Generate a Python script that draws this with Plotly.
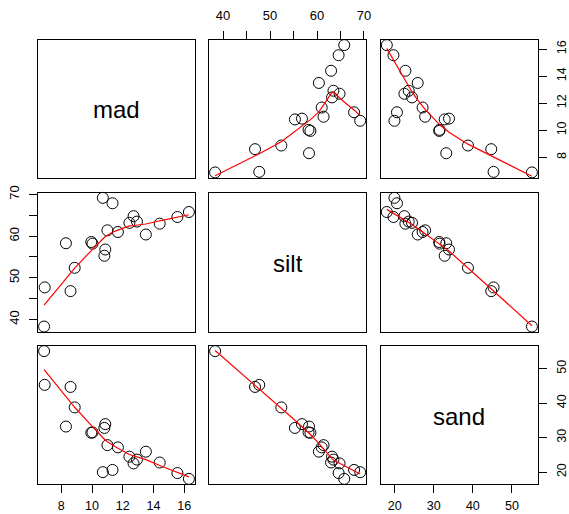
import numpy as np
import plotly.graph_objects as go

# ---- data ----
var_names = ["mad", "silt", "sand"]
mad = [6.88, 8.60, 6.92, 8.87, 10.80, 10.86, 10.03, 9.95, 8.30, 13.50,
       11.68, 11.00, 14.40, 12.43, 12.92, 12.70, 15.55, 16.30, 11.33, 10.70]
silt = [38.3, 46.8, 47.7, 52.4, 55.3, 56.8, 58.2, 58.6, 58.3, 60.4,
        61.0, 61.4, 63.0, 63.2, 63.5, 64.8, 64.6, 65.8, 67.9, 69.2]
sand = [55.1, 44.7, 45.3, 38.75, 32.8, 33.9, 31.5, 31.4, 33.2, 25.9,
        27.15, 27.8, 22.75, 24.45, 23.6, 22.5, 19.7, 18.0, 20.6, 19.95]

mad_ticks = [8, 10, 12, 14, 16]
mad_ticktext = ["8", "10", "12", "14", "16"]
silt_ticks = [40, 45, 50, 55, 60, 65, 70]
silt_ticktext = ["40", "", "50", "", "60", "", "70"]
sand_ticks = [20, 30, 40, 50]
sand_ticktext = ["20", "30", "40", "50"]

data = [np.array(mad), np.array(silt), np.array(sand)]
ticks = [(mad_ticks, mad_ticktext), (silt_ticks, silt_ticktext), (sand_ticks, sand_ticktext)]


def clowess(x, y, f=2 / 3, nsteps=3):
    order = np.argsort(x, kind="stable")
    x = np.asarray(x, float)[order]
    y = np.asarray(y, float)[order]
    n = len(x)
    delta = 0.01 * (x[-1] - x[0])
    ns = max(2, min(n, int(f * n + 1e-7)))
    ys = np.zeros(n)
    rw = np.ones(n)
    rng = x[-1] - x[0]

    def lowest(xs, nleft, nright, userw):
        h = max(xs - x[nleft], x[nright] - xs)
        h9 = 0.999 * h
        h1 = 0.001 * h
        w = np.zeros(n)
        a = 0.0
        j = nleft
        while j < n:
            r = abs(x[j] - xs)
            if r <= h9:
                w[j] = 1.0 if r <= h1 else (1 - (r / h) ** 3) ** 3
                if userw:
                    w[j] *= rw[j]
                a += w[j]
            elif x[j] > xs:
                break
            j += 1
        nrt = j - 1
        if a <= 0:
            return None
        sl = slice(nleft, nrt + 1)
        w[sl] /= a
        if h > 0:
            aa = np.sum(w[sl] * x[sl])
            b = xs - aa
            c = np.sum(w[sl] * (x[sl] - aa) ** 2)
            if np.sqrt(c) > 0.001 * rng:
                b /= c
                w[sl] *= (b * (x[sl] - aa) + 1)
        return np.sum(w[sl] * y[sl])

    for it in range(1, nsteps + 2):
        nleft = 0
        nright = ns - 1
        last = -1
        i = 0
        while True:
            if nright < n - 1:
                d1 = x[i] - x[nleft]
                d2 = x[nright + 1] - x[i]
                if d1 > d2:
                    nleft += 1
                    nright += 1
                    continue
            v = lowest(x[i], nleft, nright, it > 1)
            ys[i] = y[i] if v is None else v
            if last < i - 1:
                denom = x[i] - x[last]
                for j in range(last + 1, i):
                    alpha = (x[j] - x[last]) / denom
                    ys[j] = alpha * ys[i] + (1 - alpha) * ys[last]
            last = i
            cut = x[last] + delta
            i = last + 1
            while i < n:
                if x[i] > cut:
                    break
                if x[i] == x[last]:
                    ys[i] = ys[last]
                    last = i
                i += 1
            i = max(last + 1, i - 1)
            if last >= n - 1:
                break
        res = y - ys
        sc = np.sum(np.abs(res)) / n
        if it > nsteps:
            break
        cmad = 6 * np.median(np.abs(res))
        if cmad < 1e-7 * sc:
            break
        c9 = 0.999 * cmad
        c1 = 0.001 * cmad
        r = np.abs(res)
        rw = np.where(r <= c1, 1.0, np.where(r <= c9, (1 - (r / cmad) ** 2) ** 2, 0.0))
    return x, ys


def ext_range(v):
    lo, hi = float(np.min(v)), float(np.max(v))
    d = 0.04 * (hi - lo)
    return [lo - d, hi + d]


W, H = 569, 514
ml, mr, mt, mb = 38, 31, 40, 30
pw, ph = W - ml - mr, H - mt - mb
col_px = [(38.3, 194.7), (209.3, 366.0), (381.0, 537.7)]
row_px = [(40.0, 177.5), (192.7, 331.7), (346.0, 484.0)]
col_dom = [[max(0, (a - ml) / pw), min(1, (b - ml) / pw)] for a, b in col_px]
row_dom = [[max(0, 1 - (b - mt) / ph), min(1, 1 - (a - mt) / ph)] for a, b in row_px]

fig = go.Figure()
font_family = "Liberation Sans, Arial, sans-serif"
layout = {}
annotations = []

for i in range(3):
    for j in range(3):
        k = 3 * i + j + 1
        xa = f"x{k}" if k > 1 else "x"
        ya = f"y{k}" if k > 1 else "y"
        xkey = f"xaxis{k}" if k > 1 else "xaxis"
        ykey = f"yaxis{k}" if k > 1 else "yaxis"
        base = dict(showgrid=False, zeroline=False, showline=True, mirror=True,
                    linecolor="black", linewidth=1, ticks="", showticklabels=False,
                    automargin=False,
                    tickfont=dict(family=font_family, size=13, color="black"))
        xax = dict(base, domain=col_dom[j], anchor=ya, range=ext_range(data[j]))
        yax = dict(base, domain=row_dom[i], anchor=xa, range=ext_range(data[i]))
        # axis ticks as in R pairs()
        if i == 0 and j % 2 == 1:
            xax.update(side="top", ticks="outside", ticklen=8, tickcolor="black",
                       showticklabels=True, tickvals=ticks[j][0], ticktext=ticks[j][1],
                       ticklabelstandoff=6)
        if i == 2 and j % 2 == 0:
            xax.update(side="bottom", ticks="outside", ticklen=8, tickcolor="black",
                       showticklabels=True, tickvals=ticks[j][0], ticktext=ticks[j][1],
                       ticklabelstandoff=2,
                       tickfont=dict(family=font_family, size=12.5, color="black"))
        if j == 0 and i % 2 == 1:
            yax.update(side="left", ticks="outside", ticklen=8, tickcolor="black",
                       showticklabels=True, tickvals=ticks[i][0], ticktext=ticks[i][1],
                       tickangle=-90, ticklabelstandoff=5)
        if j == 2 and i % 2 == 0:
            yax.update(side="right", ticks="outside", ticklen=8, tickcolor="black",
                       showticklabels=True, tickvals=ticks[i][0], ticktext=ticks[i][1],
                       tickangle=-90, ticklabelstandoff=4,
                       tickfont=dict(family=font_family, size=12.5, color="black"))
        layout[xkey] = xax
        layout[ykey] = yax
        if i == j:
            fig.add_trace(go.Scatter(x=[], y=[], xaxis=xa, yaxis=ya, showlegend=False))
            annotations.append(dict(text=var_names[i], xref=f"{xa} domain", yref=f"{ya} domain",
                                    x=0.5, y=0.5, showarrow=False, yshift=-1,
                                    font=dict(family=font_family, size=24, color="black")))
        else:
            xv, yv = data[j], data[i]
            fig.add_trace(go.Scatter(x=xv, y=yv, mode="markers", xaxis=xa, yaxis=ya,
                                     showlegend=False, cliponaxis=False,
                                     marker=dict(symbol="circle-open", size=11,
                                                 color="black", line=dict(width=1, color="black"))))
            lx, ly = clowess(xv, yv)
            fig.add_trace(go.Scatter(x=lx, y=ly, mode="lines", xaxis=xa, yaxis=ya,
                                     showlegend=False, line=dict(color="red", width=1.2)))

fig.update_layout(width=W, height=H, margin=dict(l=ml, r=mr, t=mt, b=mb, autoexpand=False),
                  paper_bgcolor="white", plot_bgcolor="white",
                  annotations=annotations, **layout)
fig.write_html("out.html")
